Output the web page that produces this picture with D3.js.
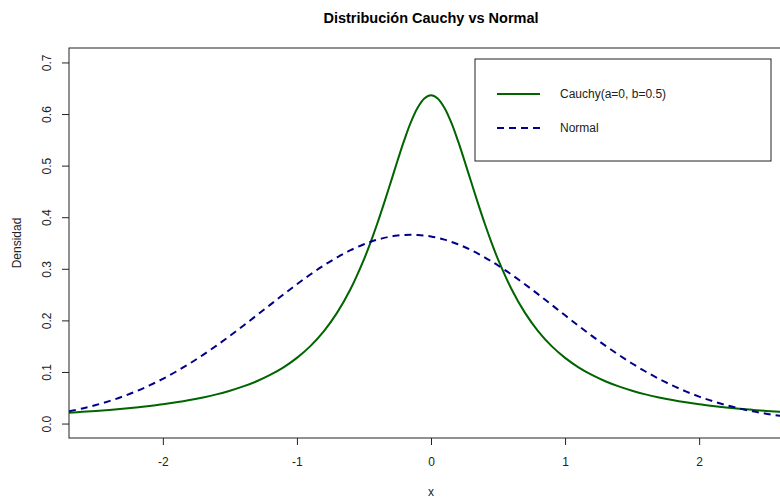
<!DOCTYPE html>
<html>
<head>
<meta charset="utf-8">
<script src="https://cdn.jsdelivr.net/npm/d3@7"></script>
<style>
  html, body { margin: 0; padding: 0; background: #fff; }
  svg { display: block; font-family: "Liberation Sans", Arial, sans-serif; }
</style>
</head>
<body>
<svg id="chart" width="780" height="498"></svg>
<script>
// Grid of x values for both density curves (finer around the peak)
const xs = [-2.7,-2.6,-2.5,-2.4,-2.3,-2.2,-2.1,-2.0,-1.9,-1.8,-1.7,-1.6,-1.5,-1.4,-1.3,-1.2,-1.1,-1.0,
  -0.9,-0.8,-0.7,-0.6,
  -0.5,-0.45,-0.4,-0.35,-0.3,-0.25,-0.2,-0.15,-0.1,-0.05,0.0,0.05,0.1,0.15,0.2,0.25,0.3,0.35,0.4,0.45,0.5,
  0.6,0.7,0.8,0.9,1.0,1.1,1.2,1.3,1.4,1.5,1.6,1.7,1.8,1.9,2.0,2.1,2.2,2.3,2.4,2.5,2.6,2.7];

// Cauchy(a=0, b=0.5) density values
const cauchy = [0.0211,0.0227,0.0245,0.0265,0.0287,0.0313,0.0342,0.0374,0.0412,0.0456,0.0507,0.0566,
  0.0637,0.0720,0.0820,0.0942,0.1090,0.1273,0.1501,0.1788,0.2151,0.2609,
  0.3183,0.3517,0.3882,0.4273,0.4681,0.5093,0.5488,0.5841,0.6121,0.6303,0.6366,0.6303,0.6121,0.5841,
  0.5488,0.5093,0.4681,0.4273,0.3882,0.3517,0.3183,
  0.2609,0.2151,0.1788,0.1501,0.1273,0.1090,0.0942,0.0820,0.0720,0.0637,0.0566,0.0507,0.0456,0.0412,
  0.0374,0.0342,0.0313,0.0287,0.0265,0.0245,0.0227,0.0211];

// Normal density values
const normal = [0.0237,0.0293,0.0358,0.0435,0.0523,0.0624,0.0739,0.0867,0.1009,0.1164,0.1332,0.1511,
  0.1700,0.1896,0.2098,0.2301,0.2504,0.2701,0.2889,0.3064,0.3223,0.3361,
  0.3476,0.3524,0.3565,0.3599,0.3626,0.3645,0.3656,0.3660,0.3656,0.3645,0.3626,0.3599,0.3565,0.3524,
  0.3476,0.3422,0.3361,0.3295,0.3223,0.3146,0.3064,
  0.2889,0.2701,0.2504,0.2301,0.2098,0.1896,0.1700,0.1511,0.1332,0.1164,0.1009,0.0867,0.0739,0.0624,
  0.0523,0.0435,0.0358,0.0293,0.0237,0.0191,0.0152,0.0120];

const xTicks = [-2, -1, 0, 1, 2];
const yTicks = [0.0, 0.1, 0.2, 0.3, 0.4, 0.5, 0.6, 0.7];
const legendLabels = ["Cauchy(a=0, b=0.5)", "Normal"];

const svg = d3.select("#chart");
const plot = { left: 69, right: 793, top: 48, bottom: 438 };

const x = d3.scaleLinear().domain([-2.7, 2.7]).range([plot.left, plot.right]);
const y = d3.scaleLinear().domain([-0.028, 0.728]).range([plot.bottom, plot.top]);

svg.append("defs").append("clipPath").attr("id", "clip")
  .append("rect")
  .attr("x", plot.left).attr("y", plot.top)
  .attr("width", plot.right - plot.left).attr("height", plot.bottom - plot.top);

// Title
svg.append("text")
  .attr("x", (plot.left + plot.right) / 2).attr("y", 23)
  .attr("text-anchor", "middle")
  .attr("font-size", 14.5).attr("font-weight", "bold")
  .attr("fill", "#000")
  .text("Distribución Cauchy vs Normal");

// Curves
const line = (vals) => d3.line()
  .x((d, i) => x(xs[i]))
  .y(d => y(d))
  .curve(d3.curveCatmullRom)(vals);

const g = svg.append("g").attr("clip-path", "url(#clip)");
g.append("path")
  .attr("d", line(cauchy))
  .attr("fill", "none").attr("stroke", "#006400").attr("stroke-width", 2);
g.append("path")
  .attr("d", line(normal))
  .attr("fill", "none").attr("stroke", "#00008B").attr("stroke-width", 2)
  .attr("stroke-dasharray", "7,5");

// Box
svg.append("rect")
  .attr("x", plot.left).attr("y", plot.top)
  .attr("width", plot.right - plot.left).attr("height", plot.bottom - plot.top)
  .attr("fill", "none").attr("stroke", "#222").attr("stroke-width", 1);

// X axis (plain hyphen for negatives)
const xAxis = svg.append("g")
  .attr("transform", `translate(0,${plot.bottom})`)
  .call(d3.axisBottom(x).tickValues(xTicks).tickFormat(d => String(d)).tickSize(7).tickPadding(12));
xAxis.select(".domain").remove();
xAxis.selectAll("line").attr("stroke", "#222");
xAxis.selectAll("text").attr("font-size", 12).attr("fill", "#222")
  .attr("font-family", "Liberation Sans, Arial, sans-serif");

// Y axis
const yAxis = svg.append("g")
  .attr("transform", `translate(${plot.left},0)`)
  .call(d3.axisLeft(y).tickValues(yTicks).tickFormat(d => d.toFixed(1)).tickSize(7));
yAxis.select(".domain").remove();
yAxis.selectAll("line").attr("stroke", "#222");
yAxis.selectAll("text")
  .attr("font-size", 12).attr("fill", "#222")
  .attr("font-family", "Liberation Sans, Arial, sans-serif")
  .attr("text-anchor", "middle")
  .attr("x", 0)
  .attr("transform", "translate(-22,0) rotate(-90)")
  .attr("dy", "0.35em");

// Axis titles
svg.append("text")
  .attr("x", (plot.left + plot.right) / 2).attr("y", 496)
  .attr("text-anchor", "middle").attr("font-size", 12).attr("fill", "#222")
  .text("x");
svg.append("text")
  .attr("transform", `translate(21,${(plot.top + plot.bottom) / 2}) rotate(-90)`)
  .attr("text-anchor", "middle").attr("font-size", 12).attr("fill", "#222")
  .text("Densidad");

// Legend
const legend = svg.append("g");
legend.append("rect")
  .attr("x", 475).attr("y", 59).attr("width", 296).attr("height", 102)
  .attr("fill", "#fff").attr("stroke", "#222").attr("stroke-width", 1);
const legendStyles = [
  { color: "#006400", dash: null },
  { color: "#00008B", dash: "7,5" }
];
legendLabels.forEach((label, i) => {
  const ly = 94 + i * 34;
  legend.append("line")
    .attr("x1", 497).attr("x2", 540).attr("y1", ly).attr("y2", ly)
    .attr("stroke", legendStyles[i].color).attr("stroke-width", 2)
    .attr("stroke-dasharray", legendStyles[i].dash);
  legend.append("text")
    .attr("x", 560).attr("y", ly).attr("dy", "0.35em")
    .attr("font-size", 12).attr("fill", "#222")
    .text(label);
});
</script>
</body>
</html>
